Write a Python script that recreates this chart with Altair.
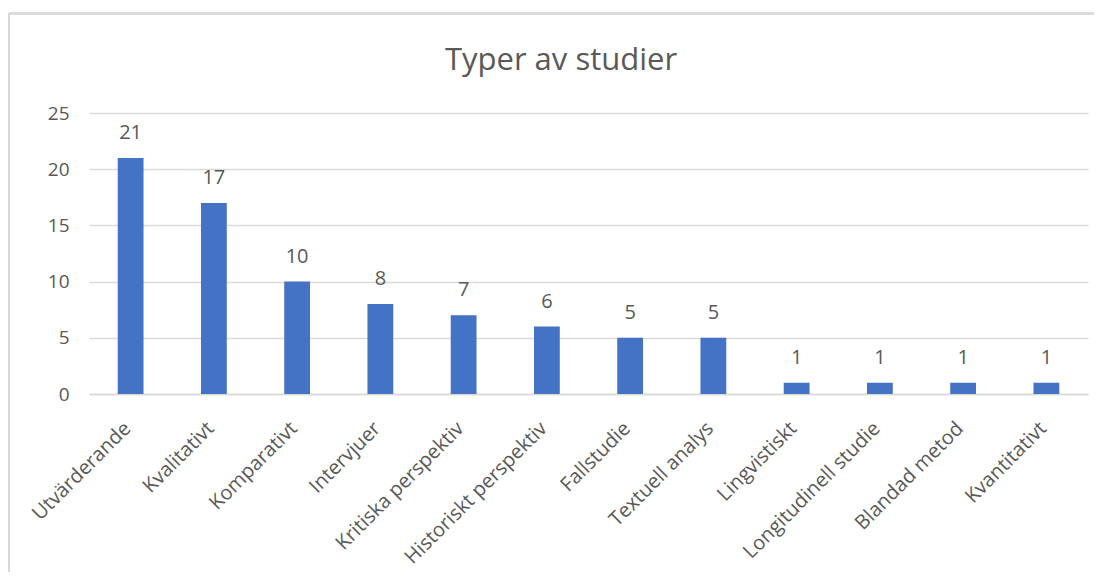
import altair as alt
import pandas as pd

categories = ["Utvärderande", "Kvalitativt", "Komparativt", "Intervjuer",
              "Kritiska perspektiv", "Historiskt perspektiv", "Fallstudie",
              "Textuell analys", "Lingvistiskt", "Longitudinell studie",
              "Blandad metod", "Kvantitativt"]
values = [21, 17, 10, 8, 7, 6, 5, 5, 1, 1, 1, 1]
title_text = ["Typer av studier"]

df = pd.DataFrame({"kategori": categories, "antal": values})

FONT = "Open Sans"
TXT = "#595959"

x = alt.X("kategori:N", sort=categories, title=None,
          scale=alt.Scale(paddingInner=0.69, paddingOuter=0.345),
          axis=alt.Axis(labelAngle=-45, labelAlign="right", labelBaseline="middle",
                        labelFont=FONT, labelFontSize=20, labelColor=TXT,
                        labelPadding=31, labelOffset=-3, ticks=False, domain=True,
                        domainColor="#D9D9D9", domainWidth=1.5, grid=False,
                        labelLimit=400))
y = alt.Y("antal:Q", title=None,
          scale=alt.Scale(domain=[0, 25], nice=False),
          axis=alt.Axis(values=[0, 5, 10, 15, 20, 25], labelFont=FONT, labelFontSize=19,
                        labelColor=TXT, labelPadding=20, ticks=False, domain=False,
                        grid=True, gridColor="#D9D9D9", gridWidth=1.5))

bars = alt.Chart(df).mark_bar(color="#4472C4").encode(x=x, y=y)
labels = alt.Chart(df).mark_text(baseline="bottom", dy=-15, font=FONT,
                                 fontSize=20, color=TXT).encode(
    x=alt.X("kategori:N", sort=categories),
    y="antal:Q", text="antal:Q")

title = alt.Chart(pd.DataFrame({"t": title_text})).mark_text(
    font=FONT, fontSize=31, color=TXT, baseline="alphabetic", align="center").encode(
    x=alt.value(472), y=alt.value(-43), text="t:N")

border_top = alt.Chart(df).mark_rule(color="#D9D9D9", strokeWidth=1.5).encode(
    x=alt.value(-80), x2=alt.value(1010), y=alt.value(-99.5))
border_left = alt.Chart(df).mark_rule(color="#D9D9D9", strokeWidth=1.5).encode(
    x=alt.value(-80), y=alt.value(-99.5), y2=alt.value(470))

chart = alt.layer(bars, labels, title, border_top, border_left).properties(
    width=999, height=281,
    background="white",
    autosize=alt.AutoSizeParams(type="none"),
    padding={"left": 81, "top": 105, "right": 6, "bottom": 178},
).configure_view(stroke=None)

chart.save("out.html", embed_options={"renderer": "svg", "actions": False})
